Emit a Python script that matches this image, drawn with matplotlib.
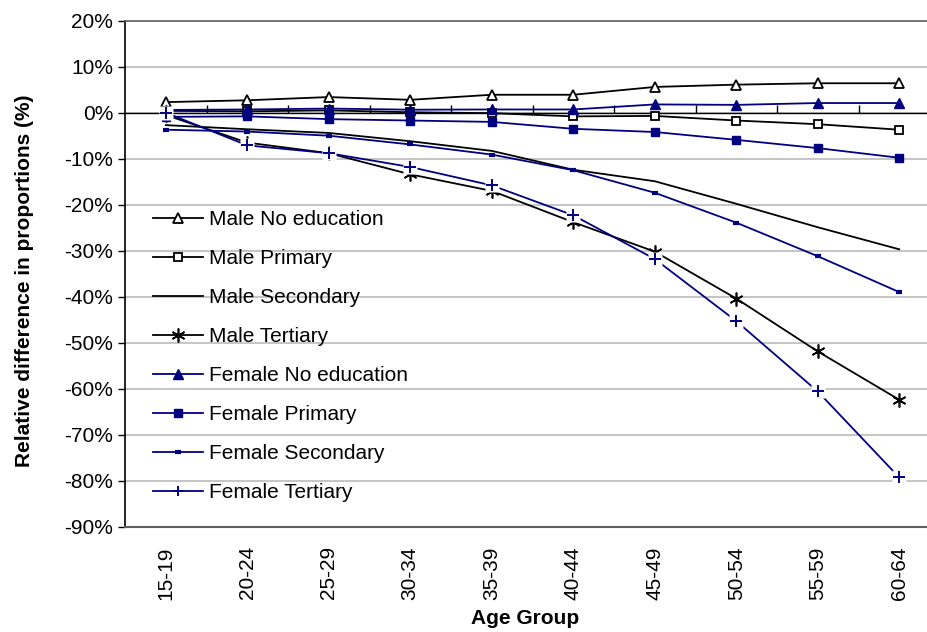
import numpy as np
import matplotlib
matplotlib.use("Agg")
import matplotlib.pyplot as plt
from matplotlib.ticker import FuncFormatter

plt.rcParams['font.family'] = ['Liberation Sans', 'DejaVu Sans']
plt.rcParams['font.size'] = 15

age_groups = ['15-19', '20-24', '25-29', '30-34', '35-39',
              '40-44', '45-49', '50-54', '55-59', '60-64']

male_no_edu = [2.3, 2.7, 3.4, 2.8, 3.9, 3.9, 5.6, 6.1, 6.4, 6.4]
male_primary = [0.4, 0.3, 0.5, 0.1, -0.1, -0.8, -0.7, -1.7, -2.5, -3.7]
male_secondary = [-2.7, -3.6, -4.4, -6.2, -8.3, -12.4, -14.9, -19.8, -24.9, -29.7]
male_tertiary = [-0.5, -6.5, -8.8, -13.4, -17.0, -23.8, -30.2, -40.4, -51.9, -62.4]
female_no_edu = [0.6, 0.7, 0.9, 0.65, 0.7, 0.7, 1.8, 1.7, 2.1, 2.1]
female_primary = [-0.9, -0.8, -1.4, -1.7, -2.0, -3.5, -4.2, -5.9, -7.7, -9.8]
female_secondary = [-3.7, -4.1, -5.0, -6.9, -9.1, -12.5, -17.4, -23.9, -31.2, -39.0]
female_tertiary = [0.0, -7.1, -8.8, -11.8, -15.8, -22.3, -31.8, -45.3, -60.6, -79.3]

NAVY = '#000080'
x = np.arange(len(age_groups))

fig = plt.figure(figsize=(9.27, 6.32), dpi=100)
ax = fig.add_axes([125 / 927, 1 - 526.7 / 632, 815 / 927, 506 / 632])

ax.set_xlim(-0.5, len(age_groups) - 0.5)
ax.set_ylim(-90, 20)
ax.set_yticks(np.arange(-90, 21, 10))
ax.yaxis.set_major_formatter(FuncFormatter(lambda v, _: f'{v:.0f}%'))
ax.yaxis.grid(True, color='#c0c0c0', lw=1.3)
ax.set_axisbelow(True)

# category axis crossing at zero, ticks between categories
ax.axhline(0, color='black', lw=1, zorder=1.5)
ax.plot(x[:-1] + 0.5, np.zeros(len(x) - 1), ls='none', marker=2, ms=6,
        mew=1, color='black', zorder=1.5)

lw = 1.3
ax.plot(x, male_no_edu, color='black', lw=lw, marker='^', ms=6.5,
        mfc='white', mec='black', mew=1.3, label='Male No education')
ax.plot(x, male_primary, color='black', lw=lw, marker='s', ms=5.5,
        mfc='white', mec='black', mew=1.3, label='Male Primary')
ax.plot(x, male_secondary, color='black', lw=lw, label='Male Secondary')
ax.plot(x, male_tertiary, color='black', lw=lw, marker=(6, 2, 0), ms=10,
        mew=1.2, label='Male Tertiary')
ax.plot(x, female_no_edu, color=NAVY, lw=lw, marker='^', ms=6.5,
        mfc=NAVY, mec=NAVY, label='Female No education')
ax.plot(x, female_primary, color=NAVY, lw=lw, marker='s', ms=5.5,
        mfc=NAVY, mec=NAVY, label='Female Primary')
ax.plot(x, female_secondary, color=NAVY, lw=lw, marker='_', ms=5,
        mew=3, mec=NAVY, label='Female Secondary')
ax.plot(x, female_tertiary, color=NAVY, lw=lw, label='_ft_line')
ax.plot(x, female_tertiary, ls='none', marker='s', ms=10, mfc='white',
        mec='none')
ax.plot(x, female_tertiary, ls='none', marker='+', ms=9, mew=1.4,
        mec=NAVY)

# legend proxy for female tertiary
ft_handle, = ax.plot([], [], color=NAVY, lw=lw, marker='+', ms=7, mew=1.4)

handles, labels = ax.get_legend_handles_labels()
handles = handles[:7] + [ft_handle]
labels = labels[:7] + ['Female Tertiary']
fig.legend(handles, labels, loc='upper left',
           bbox_to_anchor=(153 / 927, 1 - 210 / 632),
           frameon=False, borderpad=0, borderaxespad=0,
           handlelength=2.4, handletextpad=0.3, labelspacing=0.96,
           fontsize=15)

ax.set_xticks(x)
ax.set_xticklabels(age_groups, rotation=90)
ax.tick_params(axis='x', length=0, pad=14)
ax.tick_params(axis='y', length=5, width=1, color='black', direction='out')

ax.spines['right'].set_visible(False)
ax.spines['left'].set_color('black')
ax.spines['left'].set_linewidth(1.2)
ax.spines['bottom'].set_color('#606060')
ax.spines['bottom'].set_linewidth(1.5)
ax.spines['top'].set_color('#606060')
ax.spines['top'].set_linewidth(1.2)

ax.set_xlabel('Age Group', fontweight='bold', fontsize=15)
ax.xaxis.set_label_coords(0.491, -0.162)
ax.set_ylabel('Relative difference in proportions (%)', fontweight='bold',
              fontsize=15)
ax.yaxis.set_label_coords(-0.112, 0.486)

fig.savefig('out.png', dpi=100)
